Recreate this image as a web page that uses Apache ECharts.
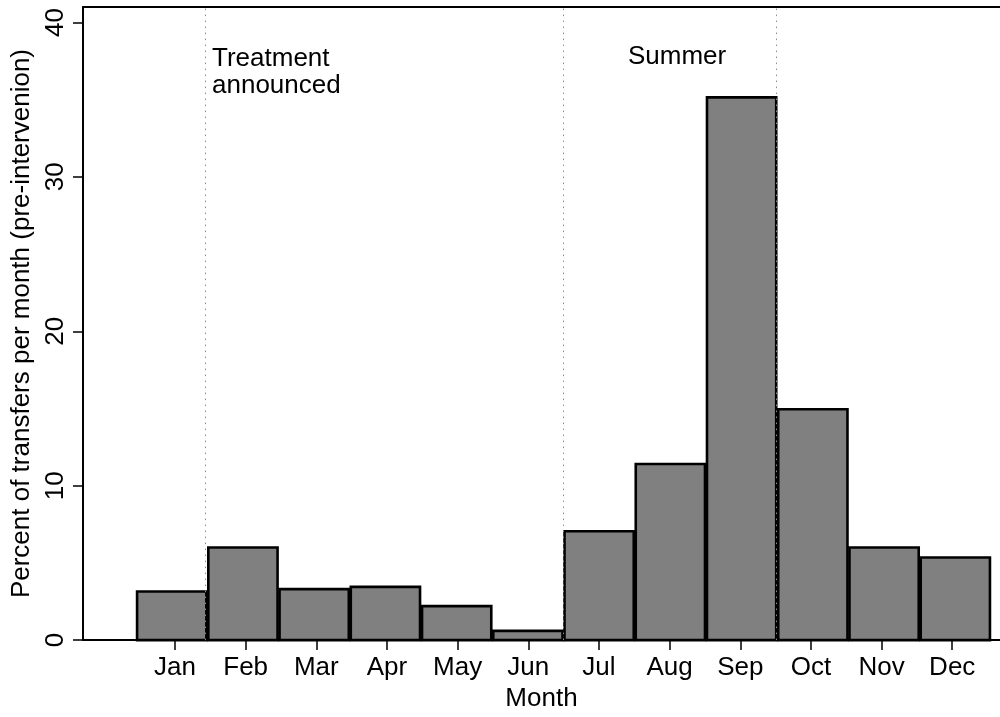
<!DOCTYPE html>
<html>
<head>
<meta charset="utf-8">
<script src="https://cdn.jsdelivr.net/npm/echarts@6/dist/echarts.min.js"></script>
<style>html,body{margin:0;padding:0;background:#fff}#c{width:1000px;height:717px}</style>
</head>
<body>
<div id="c"></div>
<script>
const months = ['Jan','Feb','Mar','Apr','May','Jun','Jul','Aug','Sep','Oct','Nov','Dec'];
const monthIndex = [1,2,3,4,5,6,7,8,9,10,11,12];
const percent = [3.15, 6.0, 3.3, 3.45, 2.2, 0.6, 7.05, 11.4, 35.15, 14.95, 6.0, 5.35];
const yTicks = [0, 10, 20, 30, 40];
const markerLines = [1.47, 6.49, 9.48];
const annotations = ['Treatment\nannounced', 'Summer'];

const FONT = '"Liberation Sans", Arial, Helvetica, sans-serif';
const chart = echarts.init(document.getElementById('c'), null, {renderer: 'canvas'});

const barData = monthIndex.map((m, i) => [m, percent[i]]);

chart.setOption({
  animation: false,
  backgroundColor: '#fff',
  grid: {left: 83, right: 0, top: 7, bottom: 75, containLabel: false},
  xAxis: [
    {
      type: 'value', position: 'top', min: -0.245, max: 12.627,
      axisLine: {show: true, onZero: false, lineStyle: {color: '#000', width: 2}},
      axisTick: {show: false}, axisLabel: {show: false}, splitLine: {show: false}
    },
    {
      type: 'value', position: 'bottom', min: -0.302, max: 12.676,
      name: 'Month', nameLocation: 'middle', nameGap: 45,
      nameTextStyle: {fontFamily: FONT, fontSize: 26, color: '#000'},
      axisLine: {show: true, onZero: false, lineStyle: {color: '#000', width: 2}},
      axisTick: {show: true, length: 10, customValues: monthIndex, lineStyle: {color: '#000', width: 1.5}},
      axisLabel: {show: true, customValues: monthIndex, margin: 15, fontFamily: FONT, fontSize: 26, color: '#000',
        formatter: v => months[Math.round(v) - 1] || ''},
      splitLine: {show: false}
    }
  ],
  yAxis: {
    type: 'value', min: 0, max: 41,
    name: 'Percent of transfers per month (pre-intervenion)', nameLocation: 'middle', nameGap: 48, nameRotate: 90,
    nameTextStyle: {fontFamily: FONT, fontSize: 26, color: '#000'},
    axisLine: {show: true, onZero: false, lineStyle: {color: '#000', width: 2}},
    axisTick: {show: true, length: 10, customValues: yTicks, lineStyle: {color: '#000', width: 1.5}},
    axisLabel: {show: true, customValues: yTicks, rotate: 90, margin: 14, fontFamily: FONT, fontSize: 26, color: '#000'},
    splitLine: {show: false}
  },
  series: [
    {
      type: 'line', data: [], xAxisIndex: 0, yAxisIndex: 0, z: 1,
      markLine: {
        silent: true, symbol: ['none', 'none'], label: {show: false},
        lineStyle: {color: '#8c8c8c', width: 1, type: [1.5, 4.5]},
        data: markerLines.map(x => ({xAxis: x}))
      }
    },
    {
      type: 'custom', xAxisIndex: 0, yAxisIndex: 0, z: 3,
      data: barData,
      encode: {x: 0, y: 1},
      renderItem: (params, api) => {
        const m = api.value(0), v = api.value(1);
        const p0 = api.coord([m - 0.5, v]);
        const p1 = api.coord([m + 0.5, 0]);
        return {
          type: 'rect',
          shape: {x: p0[0] + 1, y: p0[1], width: p1[0] - p0[0] - 2, height: p1[1] - p0[1]},
          style: {fill: '#808080', stroke: '#000', lineWidth: 2.6}
        };
      }
    }
  ],
  graphic: [
    {type: 'text', left: 212, top: 45, style: {text: annotations[0], fontFamily: FONT, fontSize: 26, lineHeight: 27.5, fill: '#000'}},
    {type: 'text', left: 628, top: 43, style: {text: annotations[1], fontFamily: FONT, fontSize: 26, lineHeight: 27.5, fill: '#000'}}
  ]
});
</script>
</body>
</html>
